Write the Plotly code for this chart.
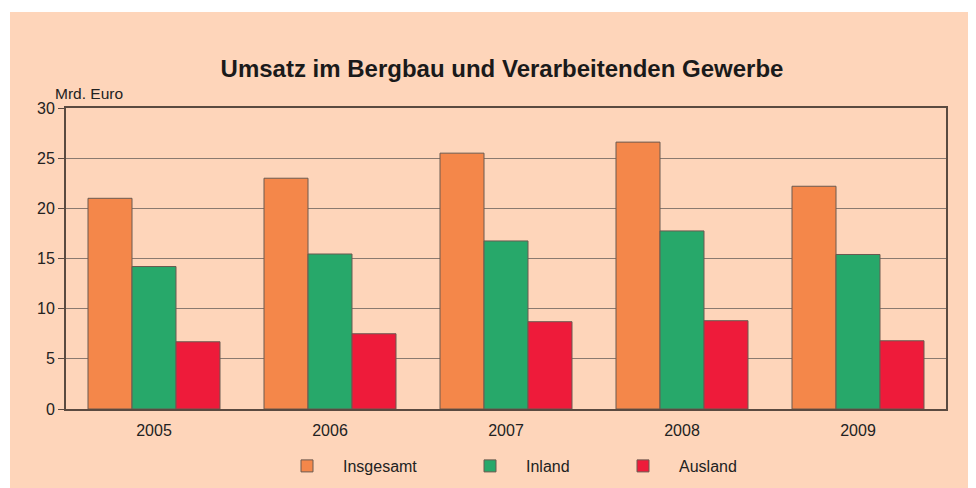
import plotly.graph_objects as go

years = ["2005", "2006", "2007", "2008", "2009"]
insgesamt = [21.0, 23.0, 25.5, 26.6, 22.2]
inland = [14.2, 15.45, 16.75, 17.75, 15.4]
ausland = [6.7, 7.5, 8.7, 8.8, 6.8]
series_names = ["Insgesamt", "Inland", "Ausland"]
colors = ["#F4874A", "#27A86A", "#EE1B3A"]

# page body has an 8px margin; figure coords = screen coords - 8
OFF = 8
W, H = 976 - OFF, 488 - OFF
L, R, T, B = 66 - OFF, 976 - 946, 108 - OFF, 488 - 409
pw, ph = W - L - R, H - T - B


def px_x(x):
    return (x - OFF - L) / pw


def px_y(y):
    return (H - B - (y - OFF)) / ph


def cx(x):
    return (x - OFF) / W


def cy(y):
    return 1 - (y - OFF) / H


legend_ids = ["legend", "legend2", "legend3"]
legend_sym_x = [307, 490, 643]

fig = go.Figure()
for name, vals, col, lg in zip(series_names, [insgesamt, inland, ausland], colors, legend_ids):
    fig.add_trace(go.Bar(x=years, y=vals, name=name, legend=lg,
                         marker=dict(color=col, line=dict(color="#6b5a50", width=1))))

fig.add_shape(type="rect", xref="paper", yref="paper", x0=px_x(10), x1=px_x(990), y0=px_y(500), y1=px_y(12),
              fillcolor="#FED5BA", line=dict(width=0), layer="below")

legend_common = dict(orientation="h", yanchor="middle", xanchor="left", bgcolor="rgba(0,0,0,0)",
                     font=dict(size=16, color="#222222"), itemwidth=62, xref="container", yref="container")
legends = {}
for lg, sx in zip(legend_ids, legend_sym_x):
    legends[lg] = dict(legend_common, x=cx(sx - 36), y=cy(466))

fig.update_layout(
    width=W, height=H,
    margin=dict(l=L, r=R, t=T, b=B, autoexpand=False),
    paper_bgcolor="white",
    plot_bgcolor="#FEF0E6",
    barmode="group",
    bargap=0.25,
    bargroupgap=0,
    font=dict(family="Liberation Sans, Arial, sans-serif", color="#222222", size=16),
    title=dict(text="<b>Umsatz im Bergbau und Verarbeitenden Gewerbe</b>", xref="container", x=cx(502),
               xanchor="center", yref="container", y=cy(69), yanchor="middle",
               font=dict(size=24, color="#1a1a1a")),
    showlegend=True,
    **legends,
    xaxis=dict(showgrid=False, showline=True, linecolor="#5a4a40", linewidth=2, mirror=True,
               ticks="", ticklabelstandoff=6, tickfont=dict(size=16, color="#222222")),
    yaxis=dict(range=[0, 30], dtick=5, showgrid=True, gridcolor="#8a7a70", gridwidth=1,
               showline=True, linecolor="#5a4a40", linewidth=2, mirror=True,
               ticks="outside", ticklen=6, tickcolor="#5a4a40", tickfont=dict(size=16, color="#222222"),
               zeroline=False),
    annotations=[dict(text="Mrd. Euro", xref="paper", yref="paper", x=px_x(53), y=px_y(93),
                      xanchor="left", yanchor="middle", showarrow=False, font=dict(size=15.5, color="#222222"))],
)

fig.write_html("out.html")
